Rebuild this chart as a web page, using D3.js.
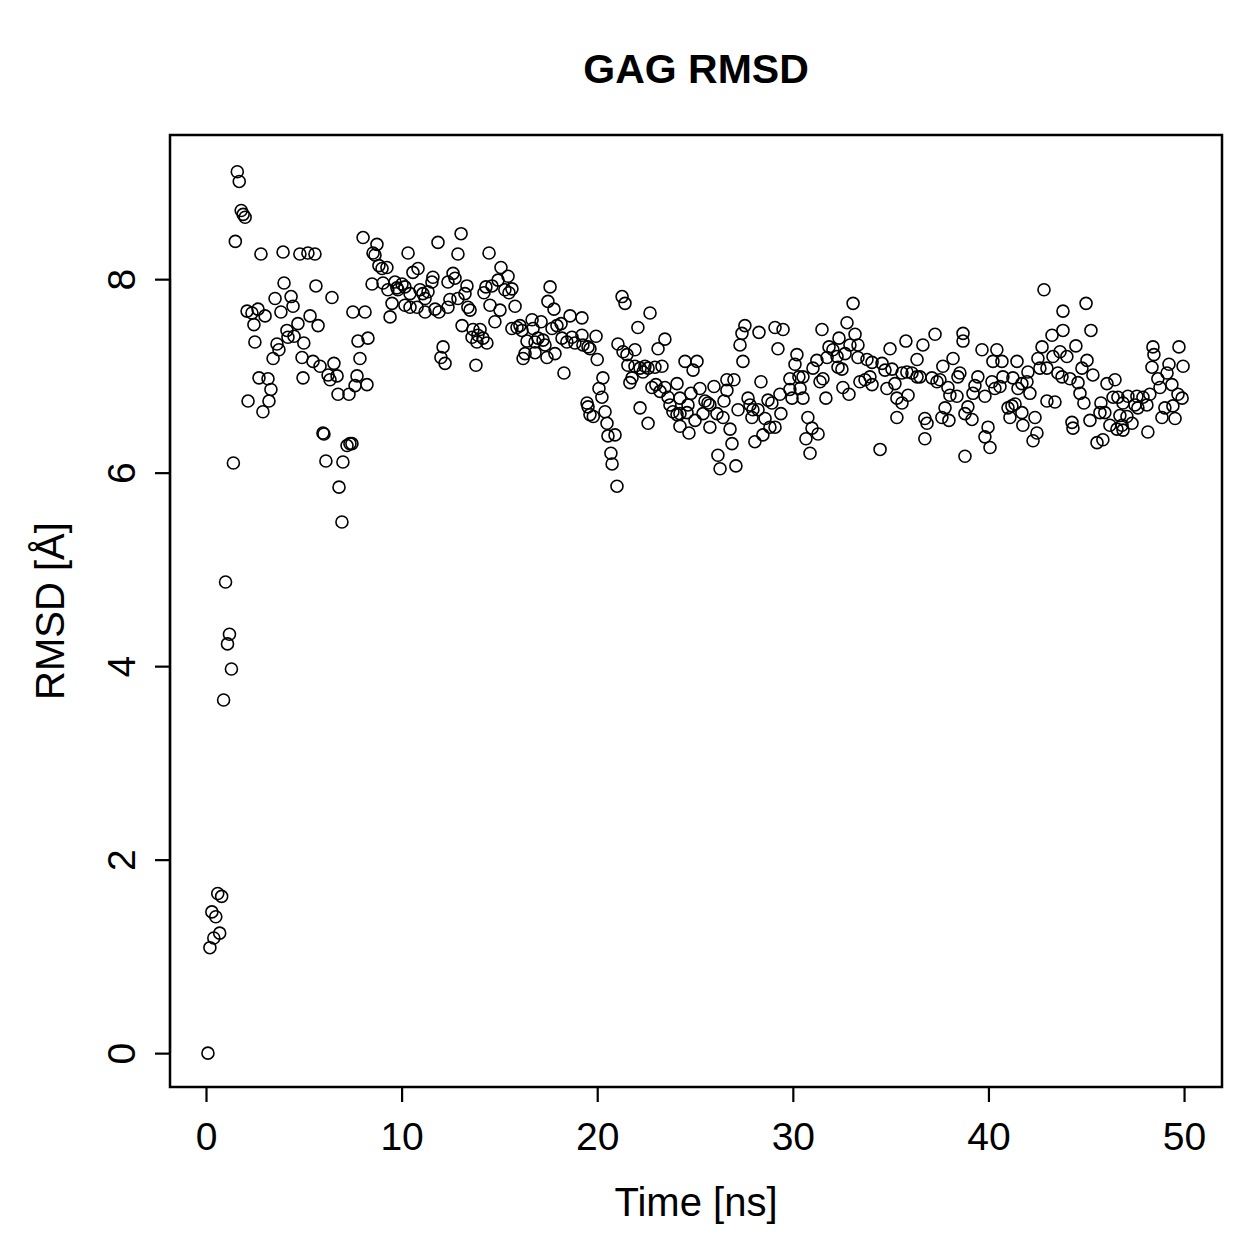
<!DOCTYPE html>
<html>
<head>
<meta charset="utf-8">
<script src="https://cdn.jsdelivr.net/npm/d3@7"></script>
<style>
  body { margin: 0; background: #fff; }
  svg text { font-family: "Liberation Sans", Arial, Helvetica, sans-serif; fill: #000; }
</style>
</head>
<body>
<svg id="chart"></svg>
<script>
// RMSD samples: [time (ns), rmsd (Å)]
var samples = [
  [0.1,0.00],[0.2,1.09],[0.3,1.46],[0.4,1.19],[0.5,1.41],[0.6,1.65],[0.7,1.24],[0.8,1.62],[0.9,3.65],[1.0,4.87],
  [1.1,4.23],[1.2,4.33],[1.3,3.97],[1.4,6.10],[1.5,8.39],[1.6,9.11],[1.7,9.01],[1.8,8.71],[1.9,8.67],[2.0,8.64],
  [2.10,7.67],[2.15,6.74],[2.35,7.65],[2.45,7.53],[2.50,7.35],[2.66,7.69],[2.71,6.98],[2.81,8.26],[2.91,6.63],[3.02,7.62],
  [3.17,6.97],[3.22,6.74],[3.32,6.86],[3.43,7.18],[3.53,7.80],[3.63,7.33],[3.73,7.27],[3.83,7.66],[3.94,8.28],[3.99,7.96],
  [4.14,7.47],[4.19,7.40],[4.35,7.82],[4.45,7.72],[4.50,7.41],[4.70,7.54],[4.80,8.26],[4.91,7.19],[4.96,6.98],[5.00,7.34],
  [5.21,8.27],[5.32,7.62],[5.47,7.15],[5.57,8.26],[5.62,7.93],[5.73,7.52],[5.83,7.10],[5.98,6.41],[6.03,6.40],[6.13,6.12],
  [6.24,7.01],[6.34,6.96],[6.44,7.81],[6.54,7.13],[6.70,7.00],[6.75,6.81],[6.80,5.85],[6.95,5.49],[7.00,6.11],[7.21,6.28],
  [7.31,6.81],[7.36,6.30],[7.46,6.30],[7.51,7.66],[7.62,6.90],[7.72,7.00],[7.77,7.36],[7.87,7.18],[8.03,8.43],[8.13,7.66],
  [8.23,6.91],[8.28,7.39],[8.49,7.95],[8.54,8.27],[8.64,8.25],[8.74,8.36],[8.84,8.14],[9.00,8.11],[9.05,7.96],[9.25,8.12],
  [9.30,7.89],[9.41,7.61],[9.51,7.75],[9.66,7.97],[9.76,7.91],[9.81,7.89],[10.02,7.95],[10.17,7.92],[10.17,7.73],[10.33,8.27],
  [10.43,7.85],[10.43,7.71],[10.58,8.07],[10.79,7.71],[10.84,8.11],[10.94,7.89],[11.09,7.85],[11.20,7.80],[11.20,7.66],[11.35,7.87],
  [11.55,7.97],[11.60,8.02],[11.71,7.69],[11.86,8.38],[11.91,7.66],[12.01,7.19],[12.12,7.30],[12.22,7.13],[12.37,7.97],[12.37,7.71],
  [12.47,7.79],[12.63,8.06],[12.73,8.01],[12.88,8.26],[12.88,7.80],[13.04,8.47],[13.09,7.52],[13.24,7.85],[13.34,7.93],[13.39,7.71],
  [13.50,7.68],[13.60,7.40],[13.65,7.48],[13.80,7.11],[13.85,7.35],[13.90,7.42],[14.01,7.48],[14.16,7.39],[14.21,7.86],[14.31,7.92],
  [14.36,7.34],[14.47,8.27],[14.52,7.73],[14.62,7.93],[14.77,7.56],[14.93,7.99],[15.03,7.68],[15.08,8.12],[15.28,7.89],[15.44,8.03],
  [15.49,7.86],[15.64,7.90],[15.64,7.49],[15.80,7.72],[15.90,7.50],[16.05,7.52],[16.15,7.47],[16.21,7.18],[16.31,7.23],[16.41,7.36],
  [16.67,7.58],[16.72,7.49],[16.82,7.35],[16.82,7.24],[16.97,7.39],[17.13,7.56],[17.23,7.37],[17.33,7.32],[17.43,7.19],[17.48,7.77],
  [17.59,7.92],[17.69,7.49],[17.79,7.69],[17.84,7.23],[17.94,7.52],[18.15,7.54],[18.20,7.39],[18.30,7.03],[18.45,7.35],[18.61,7.62],
  [18.71,7.40],[18.86,7.34],[19.22,7.60],[19.22,7.42],[19.27,7.32],[19.48,6.72],[19.53,7.30],[19.53,6.68],[19.63,6.60],[19.63,7.28],
  [19.80,6.58],[19.94,7.41],[20.00,7.17],[20.09,6.87],[20.24,6.78],[20.29,6.98],[20.40,6.63],[20.50,6.51],[20.55,6.38],[20.70,6.20],
  [20.76,6.09],[20.91,6.39],[21.01,5.86],[21.06,7.33],[21.27,7.82],[21.32,7.25],[21.42,7.75],[21.52,7.22],[21.57,7.11],[21.67,6.93],
  [21.78,6.98],[21.93,7.27],[21.93,7.10],[22.08,7.50],[22.19,7.08],[22.19,6.67],[22.34,7.04],[22.44,7.10],[22.60,7.08],[22.60,6.51],
  [22.70,7.65],[22.80,6.88],[22.95,7.09],[23.00,6.91],[23.11,7.28],[23.21,6.84],[23.31,7.10],[23.46,7.38],[23.46,6.88],[23.62,6.78],
  [23.72,6.70],[23.87,6.63],[24.08,6.92],[24.08,6.60],[24.23,6.77],[24.23,6.61],[24.23,6.48],[24.49,7.15],[24.59,6.62],[24.64,6.70],
  [24.69,6.41],[24.79,6.82],[24.90,7.06],[25.00,6.54],[25.10,7.15],[25.25,6.87],[25.41,6.61],[25.51,6.74],[25.66,6.72],[25.76,6.70],
  [25.76,6.47],[25.97,6.89],[26.12,6.61],[26.17,6.18],[26.28,6.04],[26.43,6.57],[26.48,6.74],[26.63,6.85],[26.63,6.96],[26.79,6.45],
  [26.89,6.30],[26.99,6.96],[27.09,6.07],[27.20,6.65],[27.30,7.32],[27.40,7.44],[27.45,7.15],[27.55,7.52],[27.71,6.77],[27.81,6.70],
  [27.91,6.57],[27.96,6.65],[28.06,6.32],[28.22,6.65],[28.27,7.45],[28.37,6.94],[28.47,6.39],[28.58,6.56],[28.73,6.75],[28.83,6.47],
  [28.93,6.72],[29.09,7.50],[29.09,6.47],[29.24,7.28],[29.39,6.61],[29.34,6.81],[29.50,7.48],[29.85,6.97],[29.85,6.86],[29.96,6.77],
  [30.11,7.12],[30.21,7.22],[30.31,6.99],[30.37,6.87],[30.52,6.99],[30.52,6.77],[30.67,6.35],[30.77,6.57],[30.88,6.20],[30.98,6.46],
  [31.03,7.08],[31.23,7.16],[31.29,6.40],[31.39,6.94],[31.49,7.48],[31.54,6.97],[31.69,6.77],[31.75,7.19],[31.85,7.30],[32.05,7.27],
  [32.26,7.20],[32.31,7.09],[32.36,7.39],[32.51,7.07],[32.56,6.88],[32.67,7.23],[32.77,7.55],[32.87,6.81],[32.92,7.32],[33.08,7.75],
  [33.18,7.43],[33.33,7.32],[33.33,7.19],[33.43,6.94],[33.69,6.96],[33.79,7.17],[33.94,6.99],[34.05,6.91],[34.05,7.14],[34.46,6.24],
  [34.56,7.13],[34.71,7.06],[34.81,6.87],[34.97,7.28],[35.07,7.07],[35.22,6.92],[35.32,6.77],[35.32,6.57],[35.58,7.03],[35.58,6.72],
  [35.78,7.36],[35.83,7.04],[35.89,6.80],[36.09,7.03],[36.35,7.17],[36.35,6.99],[36.50,6.99],[36.65,7.32],[36.75,6.56],[36.75,6.35],
  [36.86,6.51],[37.11,6.98],[37.27,7.43],[37.37,6.94],[37.52,6.96],[37.62,6.57],[37.67,7.10],[37.78,6.67],[37.93,6.88],[37.98,6.54],
  [38.03,6.80],[38.19,7.18],[38.39,6.79],[38.44,6.99],[38.54,7.03],[38.70,7.44],[38.70,7.36],[38.80,6.61],[38.80,6.17],[38.95,6.68],
  [39.16,6.55],[39.21,6.82],[39.31,6.90],[39.46,6.99],[39.67,7.27],[39.82,6.79],[39.82,6.37],[39.98,6.47],[40.08,6.26],[40.18,6.94],
  [40.23,7.15],[40.33,6.87],[40.43,7.27],[40.59,6.89],[40.69,7.15],[40.74,6.99],[41.00,6.67],[41.10,6.57],[41.20,6.69],[41.25,6.98],
  [41.36,6.71],[41.46,7.15],[41.51,6.87],[41.71,6.92],[41.71,6.62],[41.76,6.49],[41.97,6.94],[42.02,7.04],[42.12,6.82],[42.28,6.33],
  [42.38,6.57],[42.48,6.41],[42.53,7.18],[42.63,7.08],[42.74,7.30],[42.84,7.89],[42.99,7.08],[42.99,6.74],[43.25,7.42],[43.30,7.20],
  [43.40,6.73],[43.55,7.03],[43.66,7.25],[43.76,6.99],[43.81,7.67],[43.81,7.47],[44.01,7.20],[44.17,6.97],[44.27,6.52],[44.32,6.46],
  [44.47,7.31],[44.58,6.93],[44.68,6.82],[44.78,7.08],[44.88,6.72],[44.99,7.75],[45.04,7.16],[45.19,6.54],[45.24,7.47],[45.34,7.01],
  [45.55,6.31],[45.70,6.62],[45.75,6.72],[45.85,6.34],[45.95,6.62],[46.06,6.92],[46.21,6.49],[46.37,6.78],[46.47,6.96],[46.57,6.45],
  [46.62,6.78],[46.72,6.59],[46.83,6.49],[46.88,6.72],[46.88,6.44],[47.08,6.58],[47.13,6.79],[47.34,6.51],[47.49,6.70],[47.59,6.79],
  [47.64,6.67],[47.90,6.78],[48.10,6.70],[48.15,6.42],[48.25,6.81],[48.36,7.09],[48.41,7.30],[48.46,7.22],[48.66,6.97],[48.77,6.88],
  [48.87,6.57],[49.02,6.67],[49.13,7.03],[49.23,7.12],[49.38,6.91],[49.43,6.69],[49.54,6.56],[49.69,6.81],[49.74,7.30],[49.90,6.77],
  [49.95,7.10]
];

var xTicks = [0, 10, 20, 30, 40, 50],
    yTicks = [0, 2, 4, 6, 8];

// visible axis limits of the plot frame
var xLimits = [-1.84, 51.94],
    yLimits = [-0.35, 9.49];

var title = 'GAG RMSD',
    xLabel = 'Time [ns]',
    yLabel = 'RMSD [Å]';

var W = 1259, H = 1259,
    box = { left: 170, right: 1222, top: 135, bottom: 1087 };

var svg = d3.select('#chart').attr('width', W).attr('height', H);

let xScale = d3.scaleLinear().domain(xLimits).range([box.left, box.right]),
    yScale = d3.scaleLinear().domain(yLimits).range([box.bottom, box.top]);

// points
svg.append('g')
    .attr('id', 'points')
    .selectAll('circle')
    .data(samples)
    .enter()
    .append('circle')
    .attr('cx', d => xScale(d[0]))
    .attr('cy', d => yScale(d[1]))
    .attr('r', 6)
    .attr('fill', 'none')
    .attr('stroke', '#000')
    .attr('stroke-width', 1.6);

// plot frame
svg.append('rect')
    .attr('x', box.left)
    .attr('y', box.top)
    .attr('width', box.right - box.left)
    .attr('height', box.bottom - box.top)
    .attr('fill', 'none')
    .attr('stroke', '#000')
    .attr('stroke-width', 2.5);

// x axis
let xAxis = d3.axisBottom(xScale)
    .tickValues(xTicks)
    .tickSize(15)
    .tickPadding(20)
    .tickFormat(d3.format('d'));

let gx = svg.append('g')
    .attr('id', 'x-axis')
    .attr('transform', `translate(0,${box.bottom})`)
    .call(xAxis);

gx.select('.domain')
    .attr('d', `M${xScale(xTicks[0])},0H${xScale(xTicks[xTicks.length - 1])}`)
    .attr('stroke-width', 2.2);
gx.selectAll('.tick line').attr('stroke-width', 2.2);
gx.selectAll('text').attr('font-size', 39).attr('font-family', '"Liberation Sans", Arial, sans-serif');

// y axis
let yAxis = d3.axisLeft(yScale)
    .tickValues(yTicks)
    .tickSize(15)
    .tickFormat(d3.format('d'));

let gy = svg.append('g')
    .attr('id', 'y-axis')
    .attr('transform', `translate(${box.left},0)`)
    .call(yAxis);

gy.select('.domain')
    .attr('d', `M0,${yScale(yTicks[0])}V${yScale(yTicks[yTicks.length - 1])}`)
    .attr('stroke-width', 2.2);
gy.selectAll('.tick line').attr('stroke-width', 2.2);
gy.selectAll('.tick text')
    .attr('x', null)
    .attr('dy', null)
    .attr('font-size', 39)
    .attr('font-family', '"Liberation Sans", Arial, sans-serif')
    .attr('text-anchor', 'middle')
    .attr('transform', 'translate(-35,0) rotate(-90)');

// title and axis labels
svg.append('text')
    .attr('x', (box.left + box.right) / 2)
    .attr('y', 83)
    .attr('text-anchor', 'middle')
    .attr('font-size', 41)
    .attr('font-weight', 'bold')
    .text(title);

svg.append('text')
    .attr('x', (box.left + box.right) / 2)
    .attr('y', 1216)
    .attr('text-anchor', 'middle')
    .attr('font-size', 40)
    .text(xLabel);

svg.append('text')
    .attr('transform', `translate(64,${(box.top + box.bottom) / 2}) rotate(-90)`)
    .attr('text-anchor', 'middle')
    .attr('font-size', 40)
    .text(yLabel);
</script>
</body>
</html>
